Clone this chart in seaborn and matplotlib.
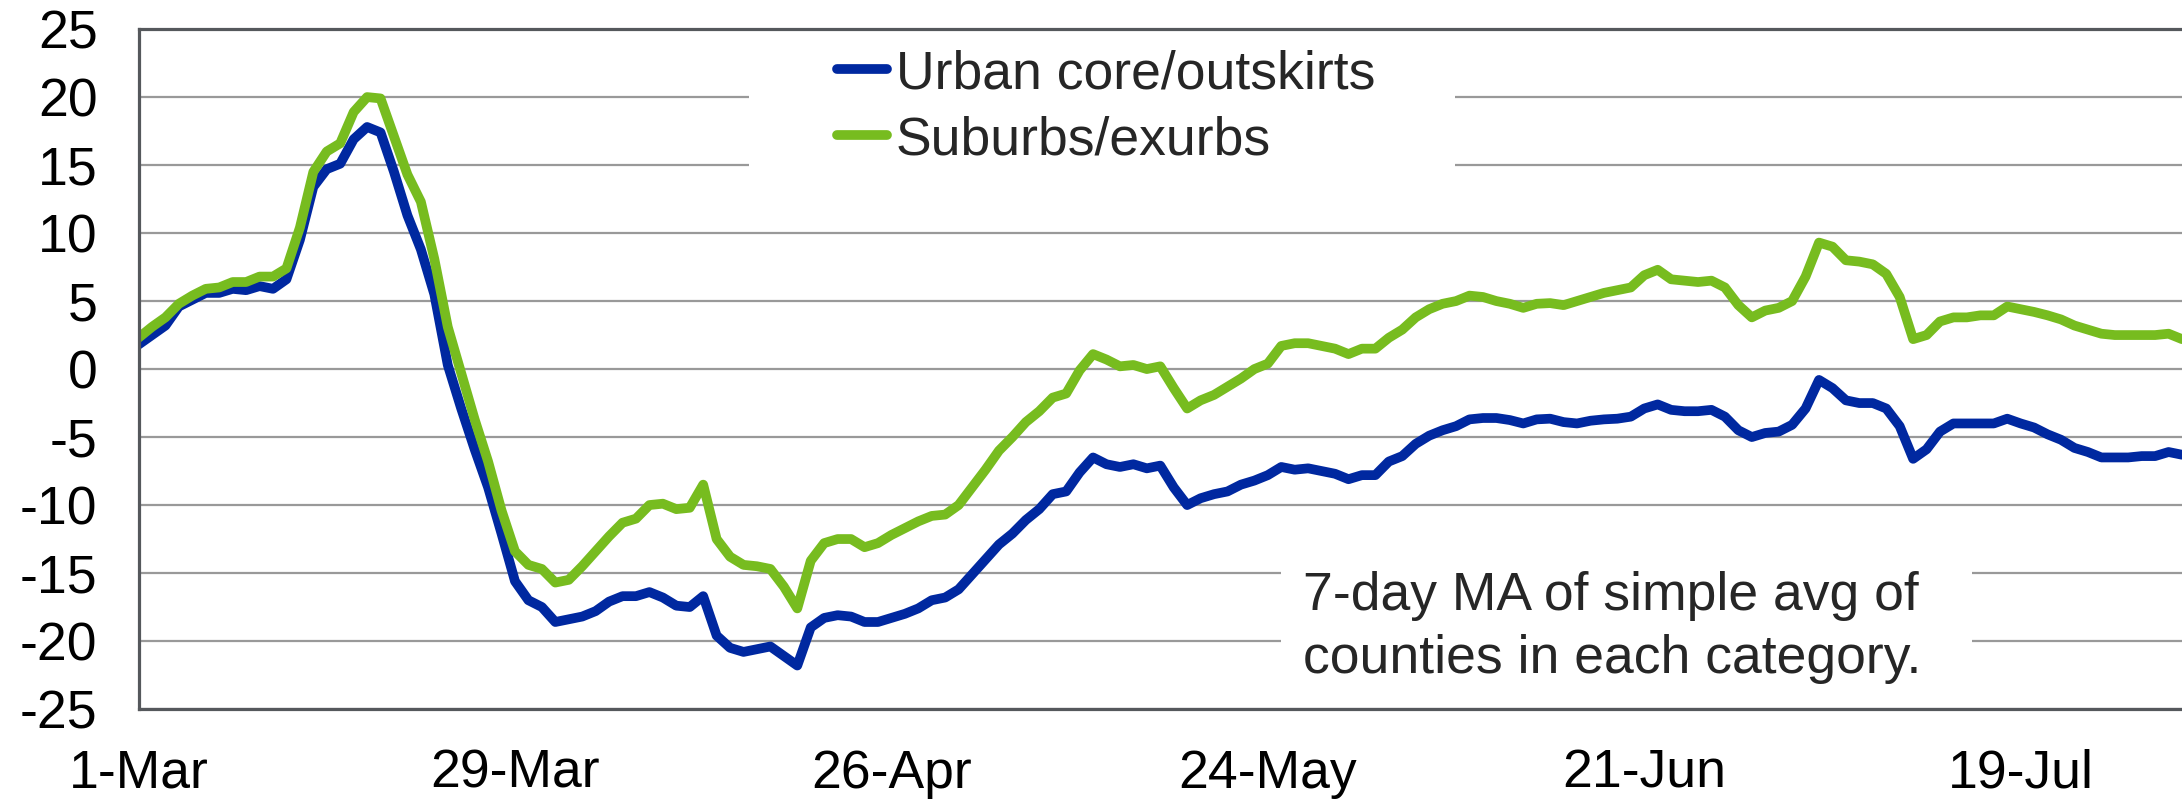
import pandas as pd
import matplotlib.pyplot as plt
import matplotlib.patches as mpatches
import seaborn as sns

sns.set_style("white")
plt.rcParams["font.family"] = ["Liberation Sans", "DejaVu Sans"]
plt.rcParams["axes.unicode_minus"] = False

BLUE = "#0028A0"
GREEN = "#77BC1F"

START = "2020-03-01"
LABELS = ["Urban core/outskirts", "Suburbs/exurbs"]
NOTE = "7-day MA of simple avg of\ncounties in each category."

# valeurs journalieres, 1-Mar -> 31-Jul
URBAN = [
    1.8, 2.5, 3.2, 4.6, 5.1, 5.6, 5.6, 5.9, 5.8, 6.1,
    5.9, 6.6, 9.5, 13.4, 14.7, 15.1, 16.9, 17.8, 17.4, 14.5,
    11.3, 8.8, 5.5, 0.3, -2.9, -5.9, -8.7, -12.1, -15.6, -17.0,
    -17.5, -18.6, -18.4, -18.2, -17.8, -17.1, -16.7, -16.7, -16.4, -16.8,
    -17.4, -17.5, -16.7, -19.6, -20.5, -20.8, -20.6, -20.4, -21.1, -21.8,
    -19.0, -18.3, -18.1, -18.2, -18.6, -18.6, -18.3, -18.0, -17.6, -17.0,
    -16.8, -16.2, -15.1, -14.0, -12.9, -12.1, -11.1, -10.3, -9.2, -9.0,
    -7.6, -6.5, -7.0, -7.2, -7.0, -7.3, -7.1, -8.7, -10.0, -9.5,
    -9.2, -9.0, -8.5, -8.2, -7.8, -7.2, -7.4, -7.3, -7.5, -7.7,
    -8.1, -7.8, -7.8, -6.8, -6.4, -5.5, -4.9, -4.5, -4.2, -3.7,
    -3.6, -3.6, -3.75, -4.0, -3.7, -3.65, -3.9, -4.0, -3.8, -3.7,
    -3.65, -3.5, -2.9, -2.6, -3.0, -3.1, -3.1, -3.0, -3.5, -4.5,
    -5.0, -4.7, -4.6, -4.1, -2.9, -0.8, -1.4, -2.3, -2.5, -2.5,
    -2.9, -4.2, -6.6, -5.9, -4.6, -4.0, -4.0, -4.0, -4.0, -3.65,
    -4.0, -4.3, -4.8, -5.2, -5.8, -6.1, -6.5, -6.5, -6.5, -6.4,
    -6.4, -6.1, -6.3,
]
SUBURBS = [
    2.3, 3.1, 3.8, 4.8, 5.4, 5.9, 6.0, 6.4, 6.4, 6.8,
    6.8, 7.4, 10.4, 14.5, 16.0, 16.6, 18.9, 20.0, 19.9, 17.1,
    14.3, 12.3, 8.1, 3.1, -0.3, -3.7, -6.8, -10.4, -13.4, -14.4,
    -14.7, -15.7, -15.5, -14.5, -13.4, -12.3, -11.3, -11.0, -10.0, -9.9,
    -10.3, -10.2, -8.5, -12.5, -13.8, -14.4, -14.5, -14.7, -16.0, -17.6,
    -14.1, -12.8, -12.5, -12.5, -13.1, -12.8, -12.2, -11.7, -11.2, -10.8,
    -10.7, -10.0, -8.7, -7.4, -6.0, -5.0, -3.9, -3.1, -2.1, -1.8,
    -0.1, 1.1, 0.7, 0.2, 0.3, 0.0, 0.2, -1.4, -2.9, -2.3,
    -1.9, -1.3, -0.7, 0.0, 0.4, 1.7, 1.9, 1.9, 1.7, 1.5,
    1.1, 1.5, 1.5, 2.3, 2.9, 3.8, 4.4, 4.8, 5.0, 5.4,
    5.3, 5.0, 4.8, 4.5, 4.8, 4.85, 4.7, 5.0, 5.3, 5.6,
    5.8, 6.0, 6.9, 7.3, 6.6, 6.5, 6.4, 6.5, 6.0, 4.7,
    3.8, 4.3, 4.5, 5.0, 6.8, 9.3, 9.0, 8.0, 7.9, 7.7,
    7.0, 5.3, 2.2, 2.5, 3.5, 3.8, 3.8, 3.95, 3.95, 4.6,
    4.4, 4.2, 3.95, 3.65, 3.2, 2.9, 2.6, 2.5, 2.5, 2.5,
    2.5, 2.6, 2.2,
]

dates = pd.date_range(START, periods=len(URBAN), freq="D")
tick_dates = pd.date_range(START, dates[-1], freq="14D")
tick_labels = [f"{d.day}-{d.strftime('%b')}" if i % 2 == 0 else "" for i, d in enumerate(tick_dates)]

fig = plt.figure(figsize=(21.82, 7.99), dpi=100)
ax = fig.add_axes([0.0635, 0.1126, 0.9365, 0.851])

sns.lineplot(x=dates, y=URBAN, ax=ax, color=BLUE, label=LABELS[0])
sns.lineplot(x=dates, y=SUBURBS, ax=ax, color=GREEN, label=LABELS[1])
for ln in ax.lines:
    ln.set_linewidth(7)
    ln.set_solid_capstyle("round")
    ln.set_solid_joinstyle("round")

ax.set_xlim(dates[0], dates[-1])
ax.set_ylim(-25, 25)
ax.set_yticks(range(-25, 26, 5))
ax.set_xticks(tick_dates)
ax.set_xticklabels(tick_labels)
ax.set_xlabel("")
ax.set_ylabel("")

ax.grid(axis="y", color="#999999", lw=1.6)
ax.set_axisbelow(True)
for side in ["left", "bottom", "top"]:
    ax.spines[side].set_color("#55585C")
    ax.spines[side].set_linewidth(2.3)
ax.spines["right"].set_visible(False)

ax.tick_params(axis="both", direction="inout", length=23, width=2.3, color="#55585C",
               labelcolor="black", labelsize=38.5)
ax.tick_params(axis="y", pad=18)
ax.tick_params(axis="x", pad=17)

# fonds blancs derriere la legende et la note
ax.add_patch(mpatches.Rectangle((0.2987, 0.7485), 0.3455, 0.2275, transform=ax.transAxes,
                                facecolor="white", edgecolor="none", zorder=1))
ax.add_patch(mpatches.Rectangle((0.559, 0.013), 0.338, 0.265, transform=ax.transAxes,
                                facecolor="white", edgecolor="none", zorder=1))

leg = ax.legend(loc="upper left", bbox_to_anchor=(0.3416, 0.9706), frameon=False, fontsize=38.5,
                handlelength=0.95, handletextpad=0.16, labelspacing=0.3, borderpad=0,
                borderaxespad=0)
for h in leg.get_lines():
    h.set_linewidth(7)
    h.set_solid_capstyle("round")

ax.text(0.5698, 0.203, NOTE, transform=ax.transAxes, fontsize=38.5, va="top", ha="left",
        linespacing=1.33)

fig.savefig("out.png", dpi=100)
